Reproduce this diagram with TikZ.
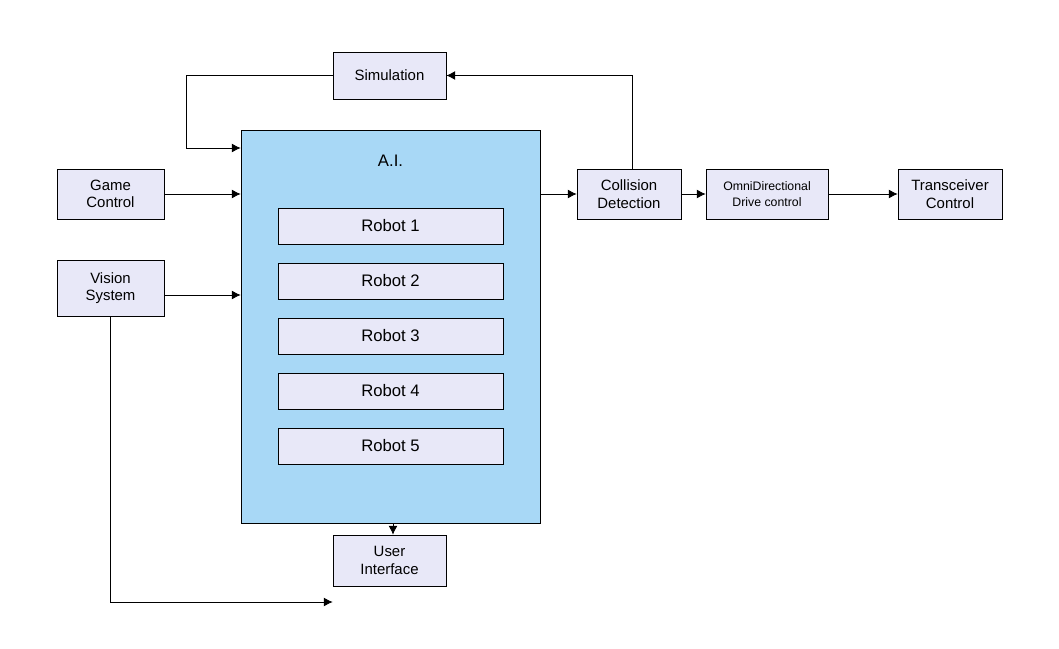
\documentclass[tikz,border=0pt]{standalone}
\usepackage{fontspec}
\setmainfont{Liberation Sans}
\usetikzlibrary{arrows.meta}
\definecolor{boxfill}{RGB}{232,232,248}
\definecolor{aifill}{RGB}{168,216,246}
\tikzset{
  blk/.style={draw, fill=boxfill, align=center, inner sep=1pt, font=\fontsize{8.5}{10}\selectfont},
  robot/.style={draw, fill=boxfill, minimum width=4.5cm, minimum height=0.72cm, font=\fontsize{9.5}{11}\selectfont},
  link/.style={-{Latex[length=5pt,width=5pt]}}
}
\begin{document}
\begin{tikzpicture}[x=0.02cm, y=-0.02cm]
  \useasboundingbox (0,0) rectangle (1059,649);
  % side blocks
  \node[blk, minimum width=2.26cm, minimum height=0.94cm] (sim) at (389.5,75.5) {Simulation};
  \node[blk, minimum width=2.14cm, minimum height=1cm] (game) at (110.5,194) {Game\\Control};
  \node[blk, minimum width=2.14cm, minimum height=1.12cm] (vision) at (110.5,288) {Vision\\System};
  \node[blk, minimum width=2.26cm, minimum height=1.02cm] (ui) at (389.5,560.5) {User\\Interface};
  \node[blk, minimum width=2.08cm, minimum height=1cm] (coll) at (629,194) {Collision\\Detection};
  \node[blk, minimum width=2.44cm, minimum height=1cm, font=\fontsize{7}{9}\selectfont] (omni) at (767,194) {OmniDirectional\\Drive control};
  \node[blk, minimum width=2.08cm, minimum height=1cm] (trans) at (950,194) {Transceiver\\Control};

  % A.I. block with robots
  \node[draw, fill=aifill, minimum width=5.98cm, minimum height=7.86cm] (ai) at (390.5,326.5) {};
  \node[font=\fontsize{9.5}{11}\selectfont] (ailabel) at (390.5,161) {A.I.};
  \foreach \i/\y in {1/226, 2/281, 3/336, 4/391, 5/446}
    \node[robot] (robot\i) at (390.5,\y) {Robot \i};

  % connectors
  \draw[link] (sim.west) -| (186,148) -- (ai.west |- 0,148);
  \draw[link] (game.east) -- (ai.west |- game.east);
  \draw[link] (vision.east |- 0,295) -- (ai.west |- 0,295);
  \draw[link] (vision.south -| 110,0) |- (ui.west |- 0,602);
  \draw[link] (ai.south -| 393,0) -- (ui.north -| 393,0);
  \draw[link] (ai.east |- coll.west) -- (coll.west);
  \draw[link] (coll.north -| 632,0) |- (sim.east);
  \draw[link] (coll.east) -- (omni.west);
  \draw[link] (omni.east) -- (trans.west);
\end{tikzpicture}
\end{document}
